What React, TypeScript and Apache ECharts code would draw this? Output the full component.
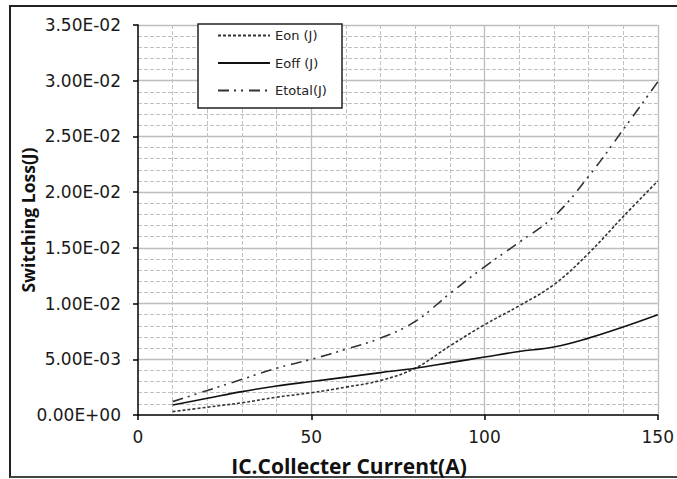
import React, { useEffect, useRef } from "react";
import * as echarts from "echarts";

const current = [10, 20, 30, 40, 50, 60, 70, 80, 90, 100, 110, 120, 130, 140, 150];
const eon = [0.0003, 0.0007, 0.0011, 0.0016, 0.002, 0.0025, 0.0031, 0.0042, 0.0062, 0.0081, 0.0098, 0.0117, 0.0145, 0.0178, 0.021];
const eoff = [0.0009, 0.0015, 0.0021, 0.0026, 0.003, 0.0034, 0.0038, 0.0042, 0.0047, 0.0052, 0.0057, 0.0061, 0.0069, 0.0079, 0.009];
const etotal = [0.0012, 0.0022, 0.0032, 0.0042, 0.005, 0.0059, 0.0069, 0.0084, 0.0109, 0.0133, 0.0155, 0.0178, 0.0214, 0.0256, 0.0299];
const seriesNames = ["Eon (J)", "Eoff (J)", "Etotal(J)"];
const xTitle = "IC.Collecter Current(A)";
const yTitle = "Switching Loss(J)";

function fmtSci(v: number): string {
  const [m, e] = v.toExponential(2).split("e");
  const n = parseInt(e, 10);
  return m + "E" + (n < 0 ? "-" : "+") + String(Math.abs(n)).padStart(2, "0");
}

const pairs = (ys: number[]) => current.map((x, i) => [x, ys[i]]);

export default function App() {
  const ref = useRef<HTMLDivElement>(null);
  useEffect(() => {
    document.body.style.margin = "0";
    const chart = echarts.init(ref.current!, null, { renderer: "svg" });
    const labelFont = "DejaVu Sans";
    chart.setOption({
      animation: false,
      backgroundColor: "#fff",
      grid: { left: 138, right: 16, top: 25, bottom: 64, containLabel: false },
      xAxis: {
        type: "value",
        min: 0,
        max: 150,
        interval: 50,
        axisLine: { show: true, onZero: false, lineStyle: { color: "#000", width: 1.5 } },
        axisTick: { show: true, inside: false, length: 5, lineStyle: { color: "#000", width: 1.5 } },
        axisLabel: { margin: 13, fontSize: 17, fontFamily: labelFont, color: "#1a1a1a" },
        splitLine: { show: true, showMinLine: false, lineStyle: { color: "#bdbdbd", width: 1.3 } },
        minorTick: { show: false, splitNumber: 5 },
        minorSplitLine: { show: true, lineStyle: { color: "#c0c0c0", width: 1, type: [4, 2] } },
      },
      yAxis: {
        type: "value",
        min: 0,
        max: 0.035,
        interval: 0.005,
        axisLine: { show: true, onZero: false, lineStyle: { color: "#000", width: 1.5 } },
        axisTick: { show: true, inside: false, length: 5, lineStyle: { color: "#000", width: 1.5 } },
        axisLabel: { margin: 17, fontSize: 17, fontFamily: labelFont, color: "#1a1a1a", formatter: (v: number) => fmtSci(v) },
        splitLine: { show: true, showMinLine: false, lineStyle: { color: "#bdbdbd", width: 1.3 } },
        minorTick: { show: false, splitNumber: 5 },
        minorSplitLine: { show: true, lineStyle: { color: "#c0c0c0", width: 1, type: [4, 2] } },
      },
      legend: {
        orient: "vertical",
        left: 217,
        top: 29,
        itemWidth: 52,
        itemHeight: 14,
        itemGap: 14.5,
        padding: 0,
        data: seriesNames,
        itemStyle: { opacity: 0, color: "transparent", borderWidth: 0 },
        textStyle: { fontFamily: labelFont, fontSize: 13, color: "#222" },
        z: 5,
      },
      graphic: [
        { type: "rect", z: 3, shape: { x: 198, y: 24, width: 144, height: 84 }, style: { fill: "#fff", stroke: "#222", lineWidth: 1.5 } },
        { type: "line", z: 10, shape: { x1: 10, y1: 6, x2: 677, y2: 6 }, style: { stroke: "#222", lineWidth: 2 } },
        { type: "line", z: 10, shape: { x1: 10, y1: 5, x2: 10, y2: 478 }, style: { stroke: "#222", lineWidth: 2 } },
        { type: "line", z: 10, shape: { x1: 10, y1: 477, x2: 677, y2: 477 }, style: { stroke: "#444", lineWidth: 2 } },
        {
          type: "text", z: 10, x: 349, y: 466,
          style: { text: xTitle, textAlign: "center", textVerticalAlign: "middle", font: 'bold 21px "Open Sans"', fill: "#111" },
        },
        {
          type: "text", z: 10, x: 28, y: 220, rotation: Math.PI / 2,
          style: { text: yTitle, textAlign: "center", textVerticalAlign: "middle", font: 'bold 17.5px "Open Sans"', fill: "#111" },
        },
      ],
      series: [
        { name: seriesNames[0], type: "line", data: pairs(eon), symbol: "none", smooth: 0.4, z: 3, lineStyle: { color: "#333", width: 1.6, type: [3, 2] }, itemStyle: { color: "#333" } },
        { name: seriesNames[1], type: "line", data: pairs(eoff), symbol: "none", smooth: 0.4, z: 3, lineStyle: { color: "#111", width: 1.6, type: "solid" }, itemStyle: { color: "#111" } },
        { name: seriesNames[2], type: "line", data: pairs(etotal), symbol: "none", smooth: 0.4, z: 3, lineStyle: { color: "#333", width: 1.6, type: [11, 5, 2, 5, 2, 6] }, itemStyle: { color: "#333" } },
      ],
    });
    return () => chart.dispose();
  }, []);
  return <div ref={ref} style={{ position: "absolute", left: 0, top: 0, width: 677, height: 479, background: "#fff" }} />;
}
